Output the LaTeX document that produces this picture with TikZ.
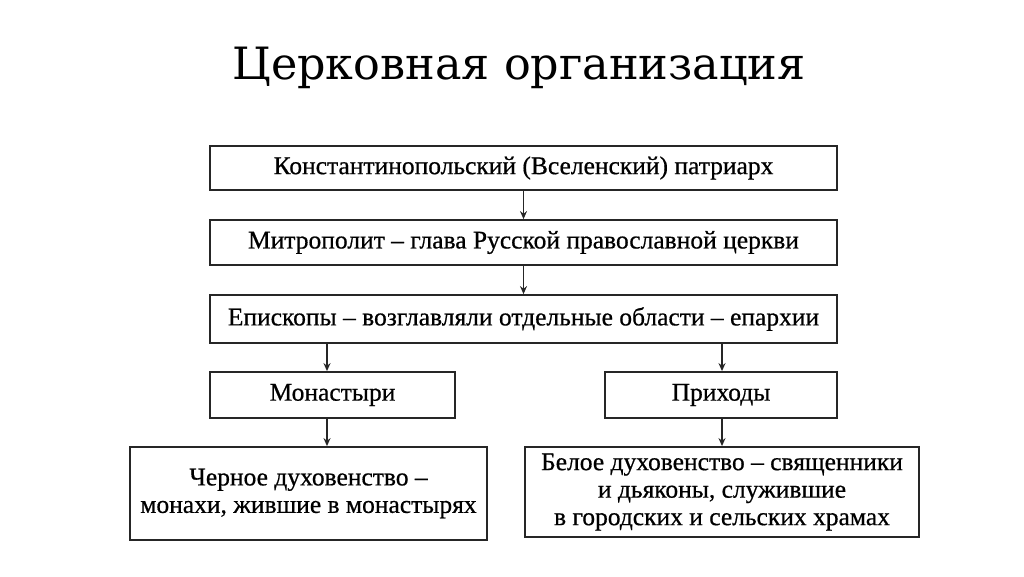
\documentclass[tikz,border=0pt]{standalone}
\usepackage{fontspec}
\setmainfont{Liberation Serif}[FakeBold=0.6]
\newfontfamily\titlefont{DejaVu Serif}
\usetikzlibrary{arrows.meta}
\tikzset{
  box/.style={draw=black!85, line width=1.8pt, inner sep=0pt, font=\fontsize{25.5}{27.5}\selectfont, align=center},
  conn/.style={draw=black!85, line width=1.4pt, -{Stealth[length=8pt,width=7pt]}}
}
\begin{document}
\begin{tikzpicture}[x=1pt,y=-1pt]
\useasboundingbox (0,0) rectangle (1024,576);
\node[font=\titlefont\fontsize{44.5}{50}\selectfont] (title) at (519,68) {Церковная организация};
\node[box, minimum width=627pt, minimum height=44pt] (b1) at (523.5,168) {Константинопольский (Вселенский) патриарх};
\node[box, minimum width=627pt, minimum height=45pt] (b2) at (523.5,242.5) {Митрополит – глава Русской православной церкви};
\node[box, minimum width=627pt, minimum height=48pt] (b3) at (523.5,319) {Епископы – возглавляли отдельные области – епархии};
\node[box, minimum width=245pt, minimum height=46pt] (m) at (332.5,395) {Монастыри};
\node[box, minimum width=232pt, minimum height=46pt] (p) at (721,395) {Приходы};
\node[box, minimum width=357pt, minimum height=93pt] (c) at (308.5,493.5) {Черное духовенство –\\монахи, жившие в монастырях};
\node[box, minimum width=394pt, minimum height=90pt] (w) at (722,492) {Белое духовенство – священники\\и дьяконы, служившие\\в городских и сельских храмах};
\draw[conn] (b1.south) -- (b2.north);
\draw[conn] (b2.south) -- (b3.north);
\draw[conn] (b3.south -| 327,0) -- (m.north -| 327,0);
\draw[conn] (b3.south -| 722,0) -- (p.north -| 722,0);
\draw[conn] (m.south -| 327,0) -- (c.north -| 327,0);
\draw[conn] (p.south -| 722,0) -- (w.north -| 722,0);
\end{tikzpicture}
\end{document}
